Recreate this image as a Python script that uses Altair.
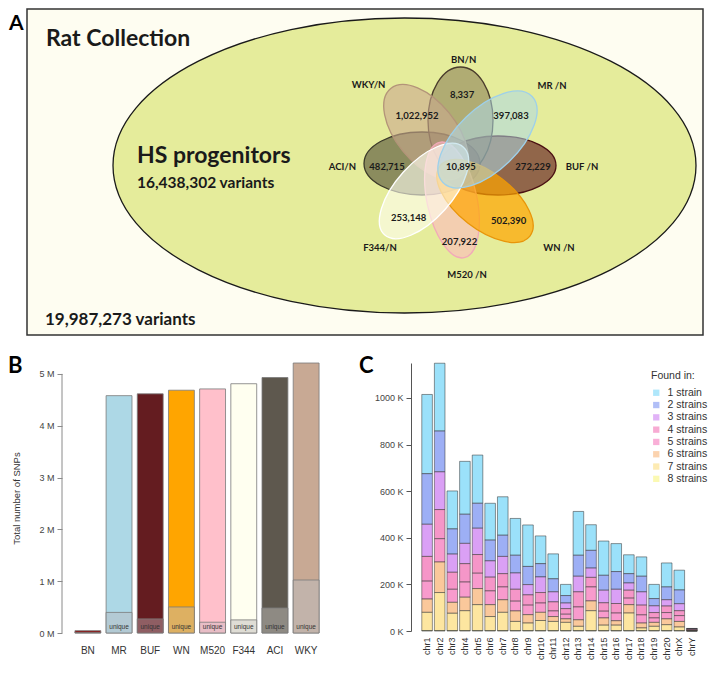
import altair as alt
import pandas as pd

# ---------------- Panel A : Venn diagram ----------------
collection_title = "Rat Collection"
collection_total = "19,987,273 variants"
hs_title = "HS progenitors"
hs_total = "16,438,302 variants"
venn_strains = ["BN/N", "MR /N", "BUF /N", "WN /N", "M520 /N", "F344/N", "ACI/N", "WKY/N"]
venn_unique = ["8,337", "397,083", "272,229", "502,390", "207,922", "253,148", "482,715", "1,022,952"]
venn_shared = "10,895"

# ---------------- Panel B : total SNPs per strain ----------------
strains_b = ["BN", "MR", "BUF", "WN", "M520", "F344", "ACI", "WKY"]
total_snps = [45000, 4580000, 4615000, 4685000, 4710000, 4810000, 4930000, 5210000]
unique_snps = [8337, 397083, 272229, 502390, 207922, 253148, 482715, 1022952]

# ---------------- Panel C : SNPs per chromosome (K) ----------------
chroms = ["chr1", "chr2", "chr3", "chr4", "chr5", "chr6", "chr7", "chr8", "chr9", "chr10",
          "chr11", "chr12", "chr13", "chr14", "chr15", "chr16", "chr17", "chr18", "chr19",
          "chr20", "chrX", "chrY"]
found_labels = ["1 strain", "2 strains", "3 strains", "4 strains", "5 strains",
                "6 strains", "7 strains", "8 strains"]
found_1 = [340, 291, 163, 227, 207, 158, 165, 158, 178, 119, 107, 48, 188, 110, 147, 120, 81, 83, 61, 103, 85, 1]
found_2 = [217, 175, 108, 125, 107, 89, 91, 76, 78, 57, 56, 32, 90, 76, 64, 76, 40, 67, 31, 55, 59, 1]
found_3 = [138, 162, 78, 87, 113, 70, 74, 70, 44, 67, 43, 24, 67, 40, 54, 61, 31, 57, 29, 27, 30, 1]
found_4 = [106, 125, 73, 79, 80, 59, 57, 51, 44, 45, 39, 24, 65, 41, 36, 41, 34, 42, 23, 28, 21, 3]
found_5 = [77, 100, 56, 65, 66, 59, 55, 42, 41, 40, 24, 20, 55, 60, 29, 33, 28, 35, 19, 27, 25, 3]
found_6 = [57, 131, 47, 58, 69, 51, 54, 45, 36, 35, 21, 15, 28, 42, 31, 19, 36, 21, 17, 25, 24, 1]
found_7 = [78, 163, 74, 85, 111, 60, 78, 39, 32, 43, 39, 35, 18, 85, 23, 23, 75, 11, 18, 25, 15, 1]
found_8 = [2, 2, 2, 2, 2, 2, 2, 2, 2, 2, 2, 2, 2, 2, 2, 2, 2, 2, 2, 2, 2, 0]
found_all = [found_1, found_2, found_3, found_4, found_5, found_6, found_7, found_8]

# ======================= styles / layout =======================
FONT_A = "Lato"
FONT_R = "Liberation Sans"

# panel A drawing coordinates (pixel-like units of the diagram)
A_X0, A_X1, A_Y0, A_Y1 = 70, 704, 8, 334
box_geom = dict(x=[28], x2=[704], y=[8], y2=[334])
big_geom = dict(cx=[405.5], cy=[164.5], a=[291.5], b=[147.5], ang=[0])

petal_cx = [461.5, 488.5, 499, 486, 453, 425, 423, 427]
petal_cy = [119.5, 138.5, 164.5, 200, 199, 190, 162.5, 131]
petal_a = [53.5, 62, 58, 57, 59, 59, 58, 56]
petal_b = [32.5, 31, 29.5, 28, 25, 28, 31.5, 30]
petal_ang = [90, 316, 0, 38, 78, 312, 0, 51]
petal_fill = ["#7B6B4C", "#ADD8E6", "#5E1418", "#FFA500", "#FFB6C1", "#FFFFF2", "#4F4D35", "#C9A98E"]
petal_stroke = ["#4A3C2C", "#9ED0EA", "#4A1012", "#E8950A", "#F2A9B9", "#FFFFFF", "#3C3A2A", "#B39479"]
petal_op = [0.5, 0.55, 0.62, 0.7, 0.55, 0.6, 0.6, 0.6]
petal_z = [2, 7, 1, 5, 4, 6, 0, 3]

name_x = [464.6, 553, 583, 560, 468, 381, 343.4, 369.6]
name_y = [61.5, 88, 169, 249.5, 277, 250, 169, 87]
count_x = [463, 512, 534, 509.6, 460.5, 409.6, 388, 418]
count_y = [96.5, 118, 169, 223, 243.5, 219.5, 169, 118]
shared_xy = (462, 169)

head_x = [47, 138, 138, 46]
head_y = [45, 162, 187, 324]
head_fs = [23, 23, 15.5, 17]

colors_b = ["#8B1A1A", "#ADD8E6", "#641C20", "#FFA500", "#FFC0CB", "#FFFFF0", "#5E584E", "#C8A994"]
colors_b_unique = ["#8B1A1A", "#B3CAD4", "#8F5E63", "#DDB062", "#E8BDC6", "#DFDDD5", "#8E8A83", "#C2B3AA"]
colors_c = ["#9BE1FA", "#9DAFF5", "#DAA0F5", "#F596C8", "#F89BCD", "#FAC89B", "#FDE6A0", "#FAF8A0"]


def ellipse_path(r):
    k = 0.5523
    return (f"M1,0 C1,{k*r:.4f} {k:.4f},{r:.4f} 0,{r:.4f} "
            f"C{-k:.4f},{r:.4f} -1,{k*r:.4f} -1,0 "
            f"C-1,{-k*r:.4f} {-k:.4f},{-r:.4f} 0,{-r:.4f} "
            f"C{k:.4f},{-r:.4f} 1,{-k*r:.4f} 1,0 Z")


xA = dict(scale=alt.Scale(domain=[A_X0, A_X1], nice=False, zero=False), axis=None)
yA = dict(scale=alt.Scale(domain=[A_Y0, A_Y1], nice=False, zero=False, reverse=True), axis=None)

box = alt.Chart(pd.DataFrame(box_geom)).mark_rect(
    fill="#FEFDF1", stroke="#333333", strokeWidth=1.5
).encode(x=alt.X("x:Q", **xA), x2="x2:Q", y=alt.Y("y:Q", **yA), y2="y2:Q")

big_df = pd.DataFrame({
    "cx": big_geom["cx"], "cy": big_geom["cy"],
    "sz": [(2 * a) ** 2 for a in big_geom["a"]],
    "shape": [ellipse_path(b / a) for a, b in zip(big_geom["a"], big_geom["b"])],
    "ang": big_geom["ang"],
})
big = alt.Chart(big_df).mark_point(
    filled=True, opacity=1, fill="#E5EC9B", stroke="#1a1a1a", strokeWidth=1.3
).encode(
    x=alt.X("cx:Q", **xA), y=alt.Y("cy:Q", **yA),
    size=alt.Size("sz:Q", scale=None), shape=alt.Shape("shape:N", scale=None),
    angle=alt.Angle("ang:Q", scale=None),
)

petal_df = pd.DataFrame({
    "strain": venn_strains, "cx": petal_cx, "cy": petal_cy,
    "sz": [(2 * a) ** 2 for a in petal_a],
    "shape": [ellipse_path(b / a) for a, b in zip(petal_a, petal_b)],
    "ang": petal_ang, "fill": petal_fill, "stroke": petal_stroke,
    "op": petal_op, "z": petal_z,
}).sort_values("z")
petals = alt.Chart(petal_df).mark_point(filled=True, opacity=1, strokeWidth=1.3).encode(
    x=alt.X("cx:Q", **xA), y=alt.Y("cy:Q", **yA),
    size=alt.Size("sz:Q", scale=None), shape=alt.Shape("shape:N", scale=None),
    angle=alt.Angle("ang:Q", scale=None),
    fill=alt.Fill("fill:N", scale=None), stroke=alt.Stroke("stroke:N", scale=None),
    fillOpacity=alt.FillOpacity("op:Q", scale=None),
    order=alt.Order("z:Q"),
)

head_df = pd.DataFrame({
    "t": [collection_title, hs_title, hs_total, collection_total],
    "x": head_x, "y": head_y, "fs": head_fs,
})
heads = alt.Chart(head_df).mark_text(
    font=FONT_A, fontWeight="bold", align="left", baseline="alphabetic", color="#1a1a1a"
).encode(x=alt.X("x:Q", **xA), y=alt.Y("y:Q", **yA), text="t:N", size=alt.Size("fs:Q", scale=None))

lab_df = pd.DataFrame({
    "t": venn_strains + venn_unique + [venn_shared],
    "x": name_x + count_x + [shared_xy[0]],
    "y": name_y + count_y + [shared_xy[1]],
})
labels_a = alt.Chart(lab_df).mark_text(
    font=FONT_A, fontWeight="bold", fontSize=9.5, align="center", baseline="alphabetic", color="#1a1a1a"
).encode(x=alt.X("x:Q", **xA), y=alt.Y("y:Q", **yA), text="t:N")

letter_a = alt.Chart(pd.DataFrame({"t": ["A"], "x": [10], "y": [29]})).mark_text(
    font=FONT_A, fontWeight="bold", fontSize=21, align="left", baseline="alphabetic", color="#000"
).encode(x=alt.X("x:Q", **xA), y=alt.Y("y:Q", **yA), text="t:N")

panel_a = alt.layer(box, big, petals, heads, labels_a, letter_a).properties(
    width=A_X1 - A_X0, height=A_Y1 - A_Y0
)

# ---------------- Panel B ----------------
df_b = pd.DataFrame({
    "strain": strains_b, "total": total_snps, "unique": unique_snps,
    "c_total": colors_b, "c_unique": colors_b_unique,
})
yB_axis = alt.Axis(
    values=[0, 1000000, 2000000, 3000000, 4000000, 5000000],
    labelExpr="(datum.value / 1000000) + ' M'", domain=False, offset=7, tickSize=5,
    tickColor="#8a8a8a", labelColor="#444", labelFont=FONT_R, labelFontSize=9, labelPadding=3,
    grid=False, titleFont=FONT_R, titleFontSize=9.5, titleFontWeight="normal",
    titleColor="#333", titlePadding=17,
)
yB_scale = alt.Scale(domain=[0, 5210000], nice=False, zero=True)
YT = "Total number of SNPs"
xB = alt.X("strain:N", sort=strains_b,
           scale=alt.Scale(paddingInner=0.17, paddingOuter=0.19),
           axis=alt.Axis(title=None, ticks=False, domain=False, labelAngle=0, labelPadding=12,
                         labelFont=FONT_R, labelFontSize=10, labelColor="#333"))

bars_total = alt.Chart(df_b).mark_bar(stroke="#7a7a7a", strokeWidth=0.8).encode(
    x=xB, y=alt.Y("total:Q", stack=None, scale=yB_scale, axis=yB_axis, title=YT),
    fill=alt.Fill("c_total:N", scale=None),
)
bars_unique = alt.Chart(df_b).mark_bar(stroke="#7a7a7a", strokeWidth=0.8).encode(
    x=xB, y=alt.Y("unique:Q", stack=None, scale=yB_scale, axis=yB_axis, title=YT),
    fill=alt.Fill("c_unique:N", scale=None),
)
unique_txt = alt.Chart(df_b).transform_filter("datum.strain != 'BN'").transform_calculate(
    lab="'unique'"
).mark_text(font=FONT_R, fontSize=6.5, color="#333", baseline="middle").encode(
    x=xB, y=alt.Y(datum=110000, type="quantitative", scale=yB_scale, axis=yB_axis, title=YT),
    text="lab:N",
)
axis_line_b = alt.Chart(pd.DataFrame({"k": [0]})).mark_rule(color="#8a8a8a", strokeWidth=1).encode(
    x=alt.value(-7),
    y=alt.Y(datum=0, type="quantitative", scale=yB_scale, axis=yB_axis, title=YT),
    y2=alt.Y2(datum=5000000),
)
letter_b = alt.Chart(pd.DataFrame({"t": ["B"]})).mark_text(
    font=FONT_A, fontWeight="bold", fontSize=22, align="left", baseline="middle", color="#000"
).encode(x=alt.value(-61), y=alt.value(3), text="t:N")

panel_b = alt.layer(bars_total, bars_unique, unique_txt, axis_line_b, letter_b).properties(
    width=256, height=270
)

# ---------------- Panel C ----------------
rows = []
for n, (lab, vals) in enumerate(zip(found_labels, found_all), start=1):
    for c, v in zip(chroms, vals):
        rows.append({"chrom": c, "grp": lab, "n": n, "count": v})
df_c = pd.DataFrame(rows)

bars_c = alt.Chart(df_c).mark_bar(stroke="#333", strokeWidth=0.7, strokeOpacity=0.75).encode(
    x=alt.X("chrom:N", sort=chroms, scale=alt.Scale(paddingInner=0.16, paddingOuter=0.38),
            axis=alt.Axis(title=None, labelAngle=270, ticks=False, domain=False, labelPadding=6,
                          labelFont=FONT_R, labelFontSize=9, labelColor="#333")),
    y=alt.Y("count:Q", stack="zero", scale=alt.Scale(domain=[0, 1150], nice=False),
            axis=alt.Axis(values=[0, 200, 400, 600, 800, 1000], labelExpr="datum.value + ' K'",
                          title=None, offset=6, tickSize=5, domainColor="#555", tickColor="#555",
                          labelColor="#444", labelFont=FONT_R, labelFontSize=9, labelPadding=3,
                          grid=False)),
    color=alt.Color("grp:N", scale=alt.Scale(domain=found_labels, range=colors_c),
                    legend=alt.Legend(title="Found in:", orient="none", legendX=582, legendY=362,
                                      symbolType="square", symbolSize=40, symbolStrokeWidth=0,
                                      symbolOpacity=0.8, labelFont=FONT_R, labelFontSize=10.5,
                                      labelColor="#333", titleFont=FONT_R, titleFontSize=10.5,
                                      titleFontWeight="normal", titleColor="#333",
                                      titlePadding=6, rowPadding=1.3, labelOffset=6)),
    order=alt.Order("n:Q", sort="descending"),
)
letter_c = alt.Chart(pd.DataFrame({"t": ["C"]})).mark_text(
    font=FONT_A, fontWeight="bold", fontSize=22, align="left", baseline="middle", color="#000"
).encode(x=alt.value(-58), y=alt.value(3), text="t:N")

panel_c = alt.layer(bars_c, letter_c).properties(width=285, height=268)

bottom = alt.hconcat(panel_b, panel_c, spacing=92, bounds="flush")
chart = alt.vconcat(panel_a, bottom, spacing=28, bounds="flush").properties(
    padding=0
).configure_view(stroke=None).configure_legend(symbolStrokeWidth=0)

chart.save("out.html", embed_options={"renderer": "svg", "actions": False})
